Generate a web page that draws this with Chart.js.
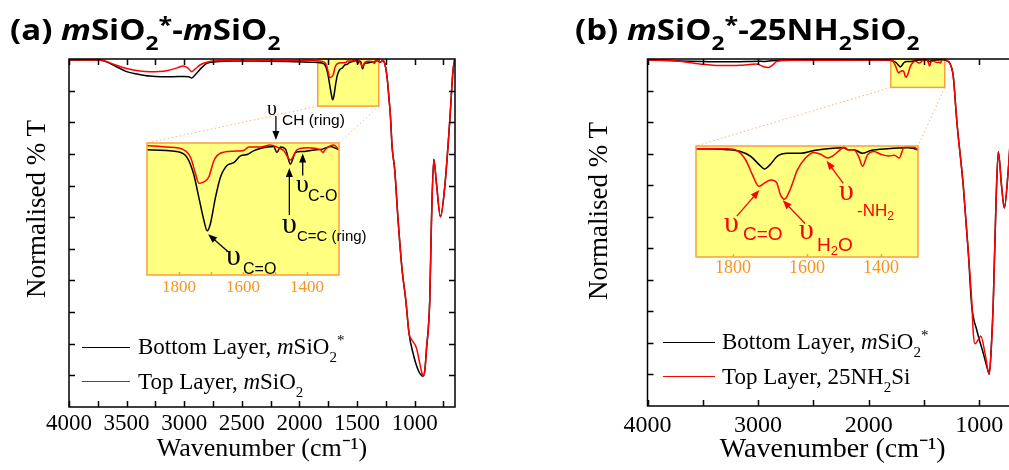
<!DOCTYPE html>
<html>
<head>
<meta charset="utf-8">
<script src="https://cdn.jsdelivr.net/npm/chart.js@4.4.1/dist/chart.umd.min.js"></script>
<style>
  html, body { margin: 0; padding: 0; background: #fff; width: 1009px; height: 470px; overflow: hidden; }
  canvas { position: absolute; display: block; }
  .t { position: absolute; white-space: nowrap; line-height: normal; }
  .ptitle { font-family: 'Open Sans', Lato, sans-serif; font-weight: bold; font-size: 29px; color: #000;
            transform: scaleX(1.14); transform-origin: 0 0; }
  .leg { font-family: 'Liberation Serif', serif; font-size: 23px; color: #000; }
  .ann { font-family: 'Liberation Sans', Arial, sans-serif; }
  .ups { font-family: 'Liberation Serif', serif; }
  .red { color: #f00; }
  .sh { position: relative; }
  .line { position: absolute; height: 0; border-top: 1.5px solid #000; }
  .ytitle { position: absolute; width: 240px; height: 30px; line-height: 30px; text-align: center;
            font-family: 'Liberation Serif', serif; font-size: 27px; transform: rotate(-90deg); white-space: nowrap; }
</style>
</head>
<body>

<canvas id="mainA" width="470" height="470" style="left:0px;top:0px"></canvas>
<canvas id="mainB" width="470" height="470" style="left:560px;top:0px"></canvas>
<canvas id="insetA" width="260" height="210" style="left:130px;top:95px"></canvas>
<canvas id="insetB" width="260" height="160" style="left:680px;top:120px"></canvas>

<!-- panel titles -->
<div class="t ptitle" style="left:10px;top:9px">(a) <i>m</i>SiO<span class="sh" style="font-size:20px;top:10px">2</span><span class="sh" style="font-size:22px;top:-8px">*</span>-<i>m</i>SiO<span class="sh" style="font-size:20px;top:10px">2</span></div>
<div class="t ptitle" style="left:575px;top:9px">(b) <i>m</i>SiO<span class="sh" style="font-size:20px;top:10px">2</span><span class="sh" style="font-size:22px;top:-8px">*</span>-25NH<span class="sh" style="font-size:20px;top:10px">2</span>SiO<span class="sh" style="font-size:20px;top:10px">2</span></div>

<!-- y axis titles -->
<div class="ytitle" style="left:-84px;top:194px">Normalised % T</div>
<div class="ytitle" style="left:478px;top:196px">Normalised % T</div>

<!-- legends -->
<div class="line" style="left:82px;top:347px;width:48px;border-color:#000"></div>
<div class="t leg" style="left:138px;top:334px">Bottom Layer, <i>m</i>SiO<span class="sh" style="font-size:15px;top:8px">2</span><span class="sh" style="font-size:15px;top:-9px">*</span></div>
<div class="line" style="left:82px;top:381px;width:48px;border-color:#f00"></div>
<div class="t leg" style="left:138px;top:369px">Top Layer, <i>m</i>SiO<span class="sh" style="font-size:15px;top:8px">2</span></div>

<div class="line" style="left:663px;top:342px;width:52px;border-color:#000"></div>
<div class="t leg" style="left:722px;top:329px">Bottom Layer, <i>m</i>SiO<span class="sh" style="font-size:15px;top:8px">2</span><span class="sh" style="font-size:15px;top:-9px">*</span></div>
<div class="line" style="left:663px;top:376px;width:52px;border-color:#f00"></div>
<div class="t leg" style="left:722px;top:364px">Top Layer, 25NH<span class="sh" style="font-size:15px;top:8px">2</span>Si</div>

<!-- inset annotations (a) -->
<div class="t ups" style="left:267px;top:97px;font-size:20px">υ</div>
<div class="t ann" style="left:282px;top:111px;font-size:15.5px">CH (ring)</div>
<div class="t ups" style="left:296px;top:169px;font-size:26px">υ</div>
<div class="t ann" style="left:308px;top:187px;font-size:16px">C-O</div>
<div class="t ups" style="left:282px;top:206px;font-size:30px">υ</div>
<div class="t ann" style="left:297px;top:227px;font-size:15px">C=C (ring)</div>
<div class="t ups" style="left:226px;top:238px;font-size:30px">υ</div>
<div class="t ann" style="left:243px;top:260px;font-size:16px">C=O</div>

<!-- inset annotations (b) -->
<div class="t ups red" style="left:724px;top:205px;font-size:30px">υ</div>
<div class="t ann red" style="left:743px;top:223px;font-size:19px">C=O</div>
<div class="t ups red" style="left:799px;top:212px;font-size:30px">υ</div>
<div class="t ann red" style="left:817px;top:234px;font-size:19px">H<span class="sh" style="font-size:13px;top:4px">2</span>O</div>
<div class="t ups red" style="left:839px;top:173px;font-size:30px">υ</div>
<div class="t ann red" style="left:857px;top:201px;font-size:17px">-NH<span class="sh" style="font-size:12px;top:4px">2</span></div>

<script>
// ---- data (wavenumber in cm-1, normalised %T in tick units) ----
// (a) mSiO2* - mSiO2
const aBottomWave = [4000, 3750, 3700, 3600, 3500, 3400, 3300, 3200, 3100, 3000, 2960, 2935, 2900, 2850, 2805, 2700, 2575, 2300, 2100,
  1900, 1807, 1775, 1754, 1738, 1722, 1712, 1702, 1686, 1671, 1650, 1629, 1608, 1587, 1567, 1525, 1504, 1494, 1483, 1467, 1452, 1436, 1415, 1389, 1352, 1326, 1297,
  1280, 1260, 1240, 1222, 1210, 1196, 1173, 1144, 1109, 1077, 1049, 1014, 970, 941, 927, 912, 898, 869, 854, 834, 811, 776, 739, 695, 667, 652];
const aBottom = [10.97, 10.97, 10.94, 10.78, 10.60, 10.52, 10.46, 10.44, 10.44, 10.45, 10.44, 10.40, 10.52, 10.72, 10.86, 10.92, 10.94, 10.93, 10.92,
  10.90, 10.875, 10.79, 10.54, 10.20, 9.86, 9.71, 9.81, 10.20, 10.49, 10.67, 10.71, 10.81, 10.83, 10.885, 10.94, 10.95, 10.86, 10.94, 10.91, 10.69, 10.86, 10.875, 10.89, 10.91, 10.95, 10.90,
  10.95, 10.86, 10.44, 9.72, 9.18, 8.23, 7.49, 5.91, 4.33, 3.38, 2.33, 1.70, 1.17, 1.00, 0.98, 1.15, 1.80, 3.38, 5.91, 7.83, 7.07, 6.01, 6.96, 9.07, 10.65, 11.0];

const aTopWave = [4000, 3750, 3700, 3600, 3500, 3400, 3297, 3152, 3060, 3008, 2970, 2935, 2900, 2863, 2800, 2747, 2500, 2200,
  1900, 1837, 1785, 1764, 1748, 1738, 1722, 1707, 1691, 1671, 1629, 1598, 1582, 1546, 1514, 1494, 1473, 1452, 1431, 1400, 1358, 1350, 1342, 1316, 1297,
  1280, 1260, 1240, 1222, 1210, 1196, 1173, 1144, 1109, 1077, 1049, 1028, 984, 956, 932, 927, 912, 898, 869, 854, 834, 811, 776, 739, 695, 667, 652];
const aTop = [10.98, 10.97, 10.95, 10.82, 10.70, 10.63, 10.60, 10.63, 10.72, 10.78, 10.72, 10.60, 10.70, 10.81, 10.90, 10.94, 10.95, 10.95,
  10.96, 10.94, 10.90, 10.79, 10.54, 10.41, 10.43, 10.50, 10.74, 10.85, 10.88, 10.89, 10.94, 10.94, 10.97, 10.94, 10.89, 10.75, 10.90, 10.93, 10.90, 10.86, 10.91, 10.97, 10.90,
  10.95, 10.86, 10.44, 9.72, 9.18, 8.23, 7.49, 5.91, 4.33, 3.38, 2.33, 2.14, 1.86, 1.38, 1.01, 0.98, 1.15, 1.80, 3.38, 5.91, 7.83, 7.07, 6.01, 6.96, 9.07, 10.65, 11.0];

// (b) mSiO2* - 25NH2SiO2
const bBottomWave = [4000, 3800, 3500, 3300, 3100, 3000, 2950, 2900, 2800, 2500, 2200,
  1900, 1816, 1780, 1753, 1730, 1715, 1699, 1680, 1653, 1617, 1581, 1545, 1500, 1491, 1473, 1450, 1428, 1382, 1328, 1296,
  1265, 1235, 1211, 1204, 1144, 1099, 1069, 1023, 964, 919, 910, 888, 873, 849, 828, 798, 774, 738, 700, 650];
const bBottom = [10.97, 10.95, 10.92, 10.91, 10.92, 10.93, 10.92, 10.94, 10.96, 10.97, 10.97,
  10.97, 10.96, 10.94, 10.89, 10.80, 10.75, 10.80, 10.89, 10.92, 10.92, 10.95, 10.97, 10.98, 10.96, 10.96, 10.92, 10.95, 10.97, 10.98, 10.95,
  10.86, 10.44, 9.38, 9.06, 6.95, 4.85, 3.20, 2.41, 1.67, 1.09, 1.01, 2.09, 3.36, 6.43, 8.06, 6.95, 6.28, 7.48, 9.5, 10.9];

const bTopWave = [4000, 3736, 3526, 3345, 3164, 3014, 2954, 2909, 2864, 2833, 2700, 2300,
  1900, 1816, 1789, 1766, 1748, 1730, 1717, 1697, 1682, 1672, 1661, 1644, 1626, 1604, 1581, 1563, 1545, 1531, 1513, 1500, 1489, 1473, 1459, 1450, 1437, 1419, 1401, 1378, 1364, 1351, 1337, 1314, 1296,
  1265, 1235, 1211, 1204, 1144, 1099, 1069, 1054, 1039, 1010, 987, 948, 910, 888, 873, 849, 828, 798, 774, 738, 700, 650];
const bTop = [10.97, 10.94, 10.84, 10.79, 10.80, 10.84, 10.76, 10.73, 10.82, 10.92, 10.96, 10.96,
  10.97, 10.97, 10.95, 10.85, 10.69, 10.56, 10.59, 10.63, 10.60, 10.47, 10.42, 10.54, 10.74, 10.87, 10.93, 10.91, 10.87, 10.89, 10.95, 10.99, 10.96, 10.96, 10.87, 10.78, 10.90, 10.94, 10.91, 10.89, 10.90, 10.87, 10.99, 10.99, 10.95,
  10.86, 10.44, 9.38, 9.06, 6.95, 4.85, 3.36, 2.30, 1.97, 2.10, 2.22, 1.67, 1.01, 2.09, 3.36, 6.43, 8.06, 6.95, 6.28, 7.48, 9.5, 10.9];

// tick positions (cm-1)
const aTicks = [4000, 3750, 3500, 3250, 3000, 2750, 2500, 2250, 2000, 1750, 1500, 1250, 1000, 750];
const bTicks = [4000, 3500, 3000, 2500, 2000, 1500, 1000];
const aInsetTicks = [1800, 1700, 1600, 1500, 1400];
const bInsetTicks = [1800, 1600, 1400];
const yTicks = [1, 2, 3, 4, 5, 6, 7, 8, 9, 10];

const xTitle = 'Wavenumber (cm⁻¹)';

// ---- styles ----
const BLACK = '#000000';
const RED = '#ff0000';
const YELLOW = '#ffff80';
const ORANGE = '#f7a03c';
const ORANGE_TXT = '#f7941d';
const SERIF = "'Liberation Serif', 'Times New Roman', serif";

// page rectangles of the inset plot areas (zoom boxes connect to these)
const insetRects = {
  a: { left: 147, top: 143, right: 339, bottom: 275, canvasLeft: 130, canvasTop: 95, w: 260, h: 210 },
  b: { left: 696, top: 146, right: 918, bottom: 257, canvasLeft: 680, canvasTop: 120, w: 260, h: 160 }
};

Chart.defaults.font.family = SERIF;
Chart.defaults.color = BLACK;

function pts(xs, ys) {
  return xs.map((x, i) => ({ x: x, y: ys[i] }));
}

function lineSet(data, color, order) {
  return {
    data: data,
    borderColor: color,
    borderWidth: 1.5,
    pointRadius: 0,
    fill: false,
    cubicInterpolationMode: 'monotone',
    order: order
  };
}

const useTicks = list => axis => { axis.ticks = list.map(v => ({ value: v })); };

// frame of the plot area plus inward tick marks
const frameTicks = {
  id: 'frameTicks',
  afterDraw(chart, args, o) {
    const { ctx, chartArea: a, scales: { x, y } } = chart;
    ctx.save();
    ctx.strokeStyle = o.color;
    ctx.lineWidth = o.lineWidth;
    ctx.strokeRect(a.left, a.top, a.right - a.left, a.bottom - a.top);
    ctx.beginPath();
    x.ticks.forEach(t => {
      const px = Math.round(x.getPixelForValue(t.value)) + 0.5;
      ctx.moveTo(px, a.bottom); ctx.lineTo(px, a.bottom - o.len);
      if (o.top) { ctx.moveTo(px, a.top); ctx.lineTo(px, a.top + o.len); }
    });
    if (o.yTicks) {
      yTicks.forEach(v => {
        const py = Math.round(y.getPixelForValue(v)) + 0.5;
        ctx.moveTo(a.left, py); ctx.lineTo(a.left + o.len, py);
        ctx.moveTo(a.right, py); ctx.lineTo(a.right - o.len, py);
      });
    }
    ctx.stroke();
    ctx.restore();
  }
};

// yellow background of the inset plot area
const panelFill = {
  id: 'panelFill',
  beforeDatasetsDraw(chart, args, o) {
    const { ctx, chartArea: a } = chart;
    ctx.save();
    ctx.fillStyle = o.color;
    ctx.fillRect(a.left, a.top, a.right - a.left, a.bottom - a.top);
    ctx.restore();
  }
};

// highlighted region in the main plot + dotted lines down to the inset
const zoomBox = {
  id: 'zoomBox',
  beforeDatasetsDraw(chart, args, o) {
    const { ctx, chartArea: a, scales: { x, y } } = chart;
    const x1 = x.getPixelForValue(o.from), x2 = x.getPixelForValue(o.to);
    const y2 = y.getPixelForValue(o.bottom);
    ctx.save();
    ctx.fillStyle = YELLOW;
    ctx.fillRect(x1, a.top, x2 - x1, y2 - a.top);
    ctx.strokeStyle = ORANGE;
    ctx.lineWidth = 1.5;
    ctx.strokeRect(x1, a.top, x2 - x1, y2 - a.top);
    const r = insetRects[o.inset];
    const off = chart.canvas.offsetLeft;
    ctx.setLineDash([1.5, 2.5]);
    ctx.lineWidth = 1;
    ctx.strokeStyle = '#f9b47a';
    ctx.beginPath();
    ctx.moveTo(x1, y2); ctx.lineTo(r.left - off, r.top);
    ctx.moveTo(x2, y2); ctx.lineTo(r.right - off, r.top);
    ctx.stroke();
    ctx.restore();
  }
};

// peak-assignment arrows, anchored at data positions
const arrows = {
  id: 'arrows',
  afterDraw(chart, args, o) {
    const { ctx, scales: { x, y } } = chart;
    ctx.save();
    o.list.forEach(ar => {
      const hx = x.getPixelForValue(ar.w) + ar.hx;
      const hy = y.getPixelForValue(ar.v) + ar.hy;
      const tx = hx + ar.tx, ty = hy + ar.ty;
      const ang = Math.atan2(hy - ty, hx - tx);
      ctx.strokeStyle = o.color;
      ctx.fillStyle = o.color;
      ctx.lineWidth = 1.3;
      ctx.beginPath();
      ctx.moveTo(tx, ty);
      ctx.lineTo(hx - 6 * Math.cos(ang), hy - 6 * Math.sin(ang));
      ctx.stroke();
      ctx.beginPath();
      ctx.moveTo(hx, hy);
      ctx.lineTo(hx - 9 * Math.cos(ang) + 3.5 * Math.sin(ang), hy - 9 * Math.sin(ang) - 3.5 * Math.cos(ang));
      ctx.lineTo(hx - 9 * Math.cos(ang) - 3.5 * Math.sin(ang), hy - 9 * Math.sin(ang) + 3.5 * Math.cos(ang));
      ctx.closePath();
      ctx.fill();
    });
    ctx.restore();
  }
};

function mainChart(id, cfg) {
  return new Chart(document.getElementById(id), {
    type: 'line',
    data: {
      datasets: [
        lineSet(pts(cfg.topWave, cfg.top), RED, 0),
        lineSet(pts(cfg.bottomWave, cfg.bottom), BLACK, 1)
      ]
    },
    options: {
      responsive: false,
      animation: false,
      events: [],
      devicePixelRatio: 1,
      layout: { padding: cfg.padding },
      plugins: {
        legend: { display: false },
        tooltip: { enabled: false },
        frameTicks: { color: BLACK, lineWidth: 1.5, len: 6, top: true, yTicks: true },
        zoomBox: cfg.box
      },
      scales: {
        x: {
          type: 'linear',
          reverse: true,
          min: 650,
          max: 4000,
          afterBuildTicks: useTicks(cfg.ticks),
          grid: { display: false, drawTicks: false },
          border: { display: false },
          ticks: {
            autoSkip: false,
            maxRotation: 0,
            padding: cfg.tickPad,
            font: { size: cfg.tickSize, lineHeight: 1 },
            color: BLACK,
            callback: v => (v % cfg.labelStep === 0 ? String(v) : '')
          },
          title: {
            display: true,
            text: xTitle,
            font: { size: cfg.titleSize, lineHeight: 1 },
            color: BLACK,
            padding: cfg.xTitlePad
          }
        },
        y: { display: false, min: 0, max: 11 }
      }
    },
    plugins: [zoomBox, frameTicks]
  });
}

function insetChart(id, cfg) {
  const r = insetRects[cfg.key];
  // chart.js counts the tick padding twice when sizing the axis
  const tickH = cfg.tickSize + 2 * cfg.tickPad;
  return new Chart(document.getElementById(id), {
    type: 'line',
    data: {
      datasets: [
        lineSet(pts(cfg.topWave, cfg.top), RED, 0),
        lineSet(pts(cfg.bottomWave, cfg.bottom), BLACK, 1)
      ]
    },
    options: {
      responsive: false,
      animation: false,
      events: [],
      devicePixelRatio: 1,
      layout: {
        padding: {
          left: r.left - r.canvasLeft,
          top: r.top - r.canvasTop,
          right: r.canvasLeft + r.w - r.right,
          bottom: r.canvasTop + r.h - r.bottom - tickH
        }
      },
      plugins: {
        legend: { display: false },
        tooltip: { enabled: false },
        panelFill: { color: YELLOW },
        frameTicks: { color: ORANGE, lineWidth: 1.5, len: 3, top: false, yTicks: false },
        arrows: { color: cfg.arrowColor, list: cfg.arrows }
      },
      scales: {
        x: {
          type: 'linear',
          reverse: true,
          min: 1300,
          max: 1900,
          afterBuildTicks: useTicks(cfg.ticks),
          grid: { display: false, drawTicks: false },
          border: { display: false },
          ticks: {
            autoSkip: false,
            maxRotation: 0,
            padding: cfg.tickPad,
            font: { size: cfg.tickSize, lineHeight: 1 },
            color: ORANGE_TXT,
            callback: v => (v % 200 === 0 ? String(v) : '')
          }
        },
        y: { display: false, min: cfg.yMin, max: 11 }
      }
    },
    plugins: [panelFill, frameTicks, arrows]
  });
}

insetChart('insetA', {
  key: 'a', topWave: aTopWave, top: aTop, bottomWave: aBottomWave, bottom: aBottom,
  yMin: 9.06, ticks: aInsetTicks, tickSize: 17, tickPad: 4, arrowColor: BLACK,
  arrows: [
    { w: 1494, v: 11, hx: -1, hy: -3, tx: 0, ty: -24 },
    { w: 1452, v: 10.69, hx: -1, hy: 4, tx: 0, ty: 47 },
    { w: 1415, v: 10.875, hx: 0.5, hy: 2, tx: 0, ty: 22 },
    { w: 1712, v: 9.71, hx: 1, hy: 3.5, tx: 20, ty: 17.4 }
  ]
});

insetChart('insetB', {
  key: 'b', topWave: bTopWave, top: bTop, bottomWave: bBottomWave, bottom: bBottom,
  yMin: 9.79, ticks: bInsetTicks, tickSize: 18, tickPad: 2, arrowColor: RED,
  arrows: [
    { w: 1730, v: 10.56, hx: 0.5, hy: 3.7, tx: -22.6, ty: 26 },
    { w: 1661, v: 10.42, hx: -1.7, hy: 1, tx: 22.3, ty: 23.3 },
    { w: 1545, v: 10.87, hx: -0.7, hy: 2.8, tx: 16.6, ty: 22.6 }
  ]
});

mainChart('mainA', {
  topWave: aTopWave, top: aTop, bottomWave: aBottomWave, bottom: aBottom,
  ticks: aTicks, labelStep: 500, tickSize: 23, tickPad: 5.5, titleSize: 26,
  xTitlePad: { top: -4.5, bottom: 4 },
  padding: { left: 69, top: 59, right: 15, bottom: 3.5 },
  box: { from: 1841, to: 1312, bottom: 9.51, inset: 'a' }
});

mainChart('mainB', {
  topWave: bTopWave, top: bTop, bottomWave: bBottomWave, bottom: bBottom,
  ticks: bTicks, labelStep: 1000, tickSize: 24, tickPad: 7.7, titleSize: 28,
  xTitlePad: { top: -9.9, bottom: 4 },
  padding: { left: 87.5, top: 59, right: 12, bottom: 2.5 },
  box: { from: 1800, to: 1312, bottom: 10.1, inset: 'b' }
});
</script>
</body>
</html>
